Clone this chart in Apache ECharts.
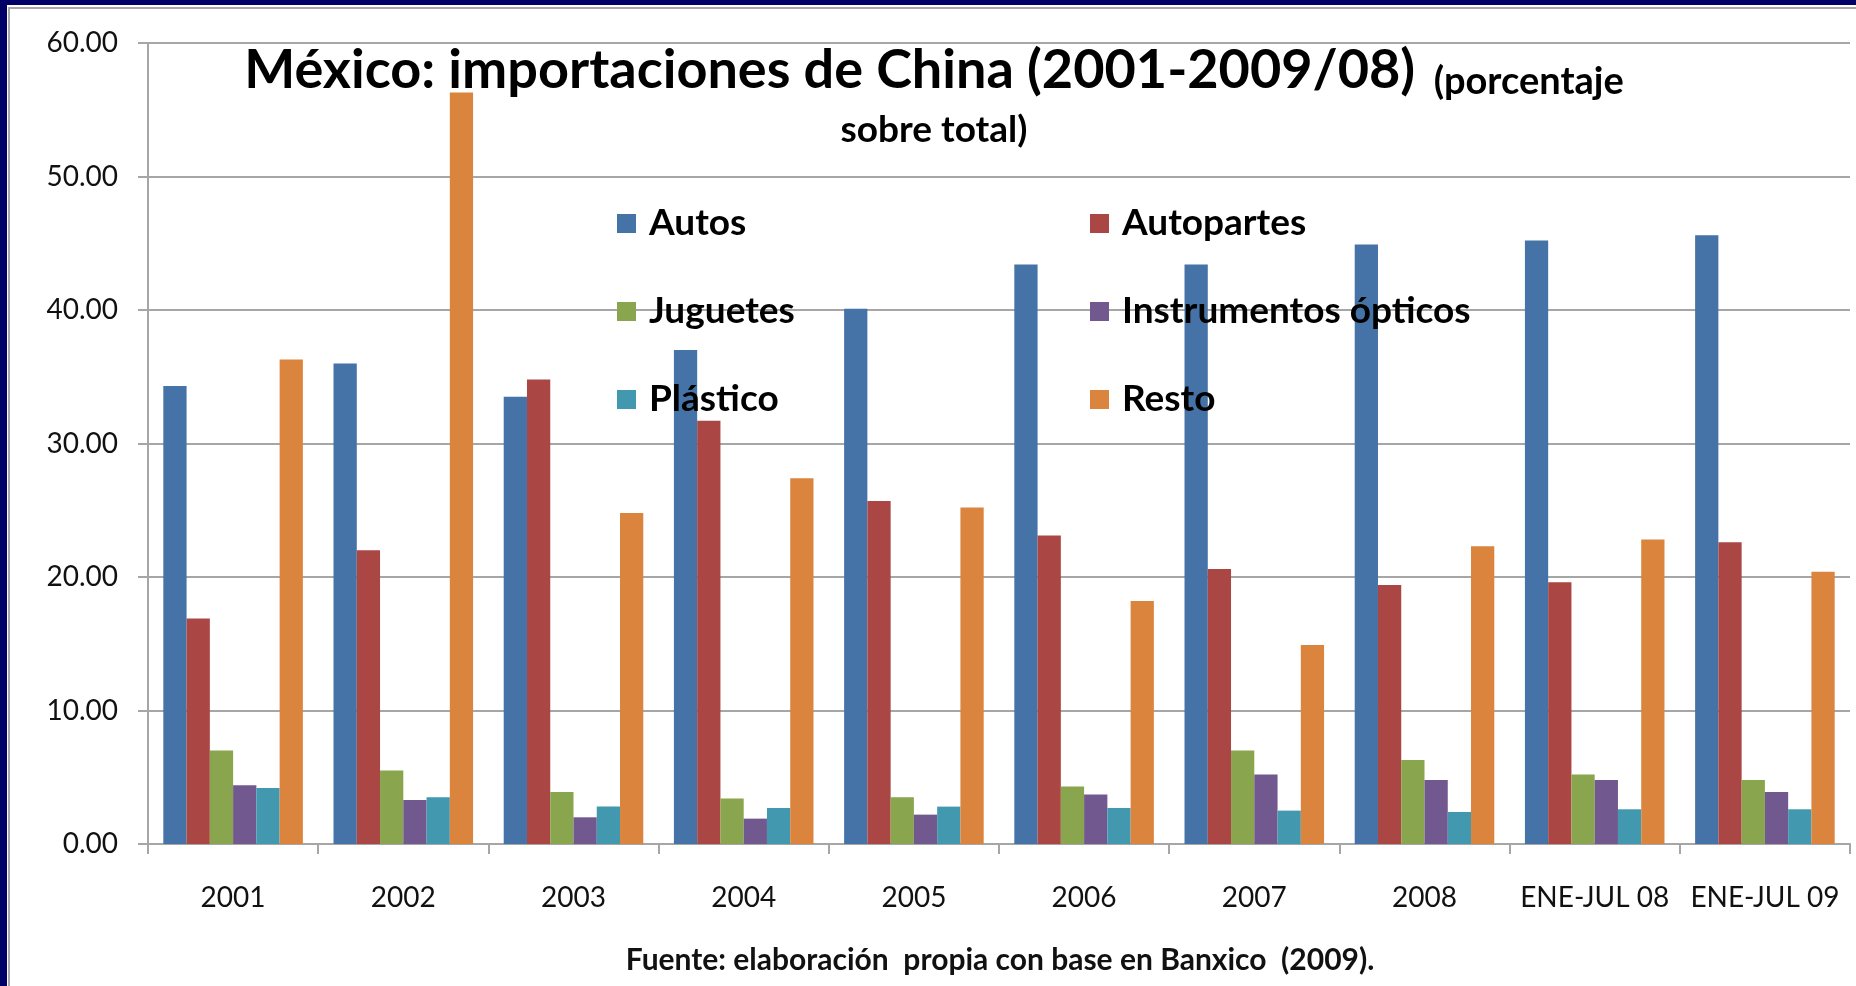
<!DOCTYPE html>
<html>
<head>
<meta charset="utf-8">
<title>México: importaciones de China</title>
<script src="https://cdn.jsdelivr.net/npm/echarts@6/dist/echarts.min.js"></script>
<style>
  html, body { margin: 0; padding: 0; background: #fff; }
  #chart { position: absolute; left: 0; top: 0; width: 1856px; height: 986px; background: #fff; }
  .navyL { position: absolute; left: 0; top: 0; width: 7px; height: 986px; background: #000066; }
  .navyT { position: absolute; left: 0; top: 0; width: 1856px; height: 5px; background: #000066; }
  .greyL { position: absolute; left: 8px; top: 7px; width: 2px; height: 979px; background: #a8a8a8; }
  .greyT { position: absolute; left: 8px; top: 7px; width: 1848px; height: 2px; background: #a8a8a8; }
</style>
</head>
<body>
<div id="chart"></div>
<div class="navyL"></div>
<div class="navyT"></div>
<div class="greyL"></div>
<div class="greyT"></div>
<script>
// categorías del eje X
const categories = ['2001', '2002', '2003', '2004', '2005', '2006', '2007', '2008', 'ENE-JUL 08', 'ENE-JUL 09']

// porcentaje sobre total
const autos = [34.3, 36.0, 33.5, 37.0, 40.1, 43.4, 43.4, 44.9, 45.2, 45.6]
const autopartes = [16.9, 22.0, 34.8, 31.7, 25.7, 23.1, 20.6, 19.4, 19.6, 22.6]
const juguetes = [7.0, 5.5, 3.9, 3.4, 3.5, 4.3, 7.0, 6.3, 5.2, 4.8]
const instrumentos = [4.4, 3.3, 2.0, 1.9, 2.2, 3.7, 5.2, 4.8, 4.8, 3.9]
const plastico = [4.2, 3.5, 2.8, 2.7, 2.8, 2.7, 2.5, 2.4, 2.6, 2.6]
const resto = [36.3, 56.3, 24.8, 27.4, 25.2, 18.2, 14.9, 22.3, 22.8, 20.4]

const yTicks = [0, 10, 20, 30, 40, 50, 60]

const FONT = 'Lato, "Open Sans", sans-serif'
const GRID_COLOR = '#a6a6a6'

const chart = echarts.init(document.getElementById('chart'))

const legendText = {
	color: '#000',
	fontFamily: FONT,
	fontWeight: 'bold',
	fontSize: 37,
	lineHeight: 36,
	padding: [0, 0, 0, 8]
}

const mkSeries = (name, data, color) => ({
	name: name,
	type: 'bar',
	data: data,
	barGap: '0%',
	barCategoryGap: '18%',
	itemStyle: { color: color }
})

const option = {
	backgroundColor: '#fff',
	animation: false,
	title: [{
		left: 934,
		top: 41,
		textAlign: 'center',
		padding: 0,
		text: '{a|México: importaciones de China (2001-2009/08)}{b|  (porcentaje}\n{c|sobre total)}',
		textStyle: {
			rich: {
				a: { fontFamily: FONT, fontWeight: 'bold', fontSize: 54, lineHeight: 60, color: '#000' },
				b: { fontFamily: FONT, fontWeight: 'bold', fontSize: 38, lineHeight: 44, color: '#000', verticalAlign: 'bottom' },
				c: { fontFamily: FONT, fontWeight: 'bold', fontSize: 37, lineHeight: 58, color: '#000' }
			}
		}
	}, {
		left: 995,
		bottom: 6,
		textAlign: 'center',
		text: 'Fuente: elaboración  propia con base en Banxico  (2009).',
		textStyle: { fontFamily: FONT, fontWeight: 'bold', fontSize: 30, color: '#111' }
	}],
	legend: [{
		orient: 'vertical',
		left: 612,
		top: 200,
		itemGap: 51,
		itemWidth: 19,
		itemHeight: 19,
		icon: 'rect',
		data: ['Autos', 'Juguetes', 'Plástico'],
		textStyle: legendText
	}, {
		orient: 'vertical',
		left: 1085,
		top: 200,
		itemGap: 51,
		itemWidth: 19,
		itemHeight: 19,
		icon: 'rect',
		data: ['Autopartes', 'Instrumentos ópticos', 'Resto'],
		textStyle: legendText
	}],
	grid: {
		left: 148,
		right: 6,
		top: 43,
		bottom: 142,
		containLabel: false
	},
	xAxis: {
		type: 'category',
		data: categories,
		axisLine: { lineStyle: { color: GRID_COLOR, width: 2 } },
		axisTick: { show: true, length: 10, lineStyle: { color: GRID_COLOR, width: 2 } },
		axisLabel: { interval: 0, color: '#111', fontFamily: FONT, fontSize: 28, margin: 40 }
	},
	yAxis: {
		type: 'value',
		min: yTicks[0],
		max: yTicks[yTicks.length - 1],
		interval: 10,
		axisLine: { show: true, lineStyle: { color: GRID_COLOR, width: 2 } },
		axisTick: { show: true, length: 10, lineStyle: { color: GRID_COLOR, width: 2 } },
		axisLabel: {
			color: '#111',
			fontFamily: FONT,
			fontSize: 28,
			margin: 30,
			formatter: v => v.toFixed(2)
		},
		splitLine: { lineStyle: { color: GRID_COLOR, width: 2 } }
	},
	series: [
		mkSeries('Autos', autos, '#4572a7'),
		mkSeries('Autopartes', autopartes, '#aa4643'),
		mkSeries('Juguetes', juguetes, '#89a54e'),
		mkSeries('Instrumentos ópticos', instrumentos, '#71588f'),
		mkSeries('Plástico', plastico, '#4198af'),
		mkSeries('Resto', resto, '#db843d')
	]
}

chart.setOption(option)
</script>
</body>
</html>
